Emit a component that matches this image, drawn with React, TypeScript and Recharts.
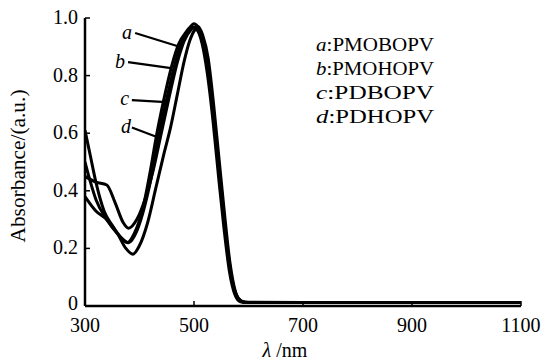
import { LineChart, Line, XAxis, YAxis, ReferenceLine, Label } from 'recharts'

// wavelength (nm) / absorbance pairs
const waveA = [300, 310, 320, 340, 360, 378, 390, 405, 420, 430, 445, 460, 472, 485, 495, 505, 515, 525, 535, 545, 555, 565, 575, 585, 600, 700, 800, 900, 1000, 1100]
const absA = [0.5, 0.43, 0.37, 0.3, 0.25, 0.22, 0.25, 0.33, 0.47, 0.58, 0.72, 0.84, 0.91, 0.95, 0.97, 0.96, 0.91, 0.8, 0.64, 0.45, 0.27, 0.12, 0.04, 0.015, 0.012, 0.012, 0.012, 0.012, 0.012, 0.012]

const waveB = [300, 310, 320, 335, 350, 365, 380, 395, 410, 425, 435, 450, 465, 478, 490, 500, 510, 520, 530, 540, 550, 560, 570, 580, 590, 600, 700, 800, 900, 1000, 1100]
const absB = [0.61, 0.52, 0.43, 0.33, 0.28, 0.24, 0.22, 0.26, 0.35, 0.48, 0.59, 0.72, 0.84, 0.92, 0.96, 0.98, 0.96, 0.89, 0.76, 0.59, 0.4, 0.22, 0.09, 0.03, 0.014, 0.012, 0.012, 0.012, 0.012, 0.012, 0.012]

const waveC = [300, 320, 340, 355, 370, 380, 395, 410, 425, 440, 455, 470, 482, 495, 503, 512, 522, 532, 542, 552, 562, 572, 582, 592, 700, 800, 900, 1000, 1100]
const absC = [0.45, 0.43, 0.42, 0.36, 0.29, 0.27, 0.3, 0.37, 0.47, 0.6, 0.73, 0.85, 0.92, 0.96, 0.97, 0.95, 0.88, 0.74, 0.56, 0.37, 0.19, 0.07, 0.025, 0.013, 0.012, 0.012, 0.012, 0.012, 0.012]

const waveD = [300, 320, 340, 360, 375, 388, 400, 415, 430, 445, 457, 470, 482, 492, 502, 508, 516, 526, 536, 546, 556, 566, 576, 586, 600, 700, 800, 900, 1000, 1100]
const absD = [0.38, 0.33, 0.3, 0.25, 0.2, 0.18, 0.21, 0.29, 0.41, 0.53, 0.62, 0.74, 0.85, 0.92, 0.96, 0.97, 0.94, 0.86, 0.7, 0.51, 0.32, 0.15, 0.05, 0.018, 0.012, 0.012, 0.012, 0.012, 0.012, 0.012]

const xTicks = [300, 500, 700, 900, 1100]
const yTicks = [0, 0.2, 0.4, 0.6, 0.8, 1.0]

const letters = ['a', 'b', 'c', 'd']
const names = ['PMOBOPV', 'PMOHOPV', 'PDBOPV', 'PDHOPV']
// label anchor and leader line in data units
const labelPos = [
  { x: 377, y: 0.948, x1: 392, x2: 469, y1: 0.948, y2: 0.903 },
  { x: 364, y: 0.847, x1: 379, x2: 458, y1: 0.847, y2: 0.826 },
  { x: 373, y: 0.719, x1: 386, x2: 449, y1: 0.715, y2: 0.708 },
  { x: 375, y: 0.62, x1: 386, x2: 432, y1: 0.62, y2: 0.587 },
]

const toPoints = (w: number[], a: number[]) => w.map((x, i) => ({ x, y: a[i] }))
const series = [toPoints(waveA, absA), toPoints(waveB, absB), toPoints(waveC, absC), toPoints(waveD, absD)]

const font = '"Liberation Serif", "Times New Roman", serif'

function YTick(props: any) {
  const { x, y, payload } = props
  const v = payload.value
  return (
    <g>
      <line x1={x + 7} x2={x + 12} y1={y} y2={y} stroke="#000" strokeWidth={1.5} />
      <text x={x} y={v === 0 ? y + 4 : y + 6} textAnchor="end" fontSize={20} fontFamily={font} fill="#000">
        {v === 0 ? '0' : v.toFixed(1)}
      </text>
    </g>
  )
}

function XTick(props: any) {
  const { x, y, payload } = props
  return (
    <g>
      <line x1={x} x2={x} y1={y - 10} y2={y - 15} stroke="#000" strokeWidth={1.5} />
      <text x={x} y={y + 16} textAnchor="middle" fontSize={20} fontFamily={font} fill="#000">
        {payload.value}
      </text>
    </g>
  )
}

export default function App() {
  return (
    <div style={{ position: 'absolute', left: 0, top: 0, background: '#fff' }}>
      <LineChart width={547} height={363} margin={{ top: 18, right: 26, bottom: 0, left: 0 }}>
        <XAxis
          type="number"
          dataKey="x"
          domain={[300, 1100]}
          ticks={xTicks}
          interval={0}
          tickLine={false}
          tickSize={0}
          tickMargin={10}
          height={57}
          axisLine={{ stroke: '#000', strokeWidth: 2.5 }}
          tick={<XTick />}
          allowDataOverflow
        >
          <Label
            position="insideBottom"
            offset={6}
            content={() => (
              <text x={285} y={357} textAnchor="middle" fontSize={20} fontFamily={font} fill="#000">
                <tspan fontStyle="italic">λ</tspan> /nm
              </text>
            )}
          />
        </XAxis>
        <YAxis
          type="number"
          domain={[0, 1]}
          ticks={yTicks}
          interval={0}
          width={85}
          tickLine={false}
          tickSize={0}
          tickMargin={7}
          axisLine={{ stroke: '#000', strokeWidth: 2.5 }}
          tick={<YTick />}
        >
          <Label
            content={() => (
              <text
                x={25}
                y={166}
                transform="rotate(-90 25 166)"
                textAnchor="middle"
                fontSize={20}
                fontFamily={font}
                fill="#000"
                textLength={153}
                lengthAdjust="spacingAndGlyphs"
              >
                Absorbance/(a.u.)
              </text>
            )}
          />
        </YAxis>
        {series.map((d, i) => (
          <Line
            key={letters[i]}
            data={d}
            dataKey="y"
            type="monotone"
            stroke="#000"
            strokeWidth={3}
            dot={false}
            isAnimationActive={false}
          />
        ))}
        {labelPos.map((p, i) => (
          <ReferenceLine
            key={'l' + i}
            segment={[{ x: p.x1, y: p.y1 }, { x: p.x2, y: p.y2 }]}
            stroke="#000"
            strokeWidth={2.2}
          />
        ))}
        {labelPos.map((p, i) => (
          <ReferenceLine
            key={'t' + i}
            segment={[{ x: p.x, y: p.y }, { x: p.x, y: p.y }]}
            stroke="none"
          >
            <Label
              content={(lp: any) => {
                const vb = lp.viewBox || {}
                return (
                  <text x={vb.x} y={(vb.y ?? 0) + 6} textAnchor="middle" fontSize={20} fontFamily={font} fontStyle="italic" fill="#000">
                    {letters[i]}
                  </text>
                )
              }}
            />
          </ReferenceLine>
        ))}
        {names.map((n, i) => (
          <ReferenceLine
            key={'n' + i}
            segment={[{ x: 724, y: 0.905 - i * 0.083 }, { x: 724, y: 0.905 - i * 0.083 }]}
            stroke="none"
          >
            <Label
              content={(lp: any) => {
                const vb = lp.viewBox || {}
                return (
                  <text x={vb.x} y={(vb.y ?? 0) + 6} fontSize={19} fontFamily={font} fill="#000" textLength={118} lengthAdjust="spacingAndGlyphs">
                    <tspan fontStyle="italic">{letters[i]}</tspan>:{n}
                  </text>
                )
              }}
            />
          </ReferenceLine>
        ))}
      </LineChart>
    </div>
  )
}
